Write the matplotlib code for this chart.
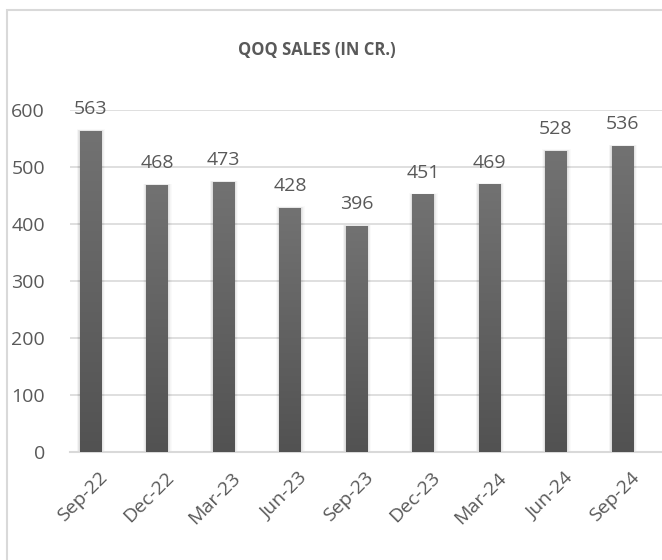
import numpy as np
import matplotlib.pyplot as plt
from matplotlib.colors import LinearSegmentedColormap
from matplotlib.patches import Rectangle

# QoQ sales data (in Cr.)
quarters = ["Sep-22", "Dec-22", "Mar-23", "Jun-23", "Sep-23",
            "Dec-23", "Mar-24", "Jun-24", "Sep-24"]
sales = [563, 468, 473, 428, 396, 451, 469, 528, 536]
y_ticks = [0, 100, 200, 300, 400, 500, 600]

TEXT = "#595959"
GRID = "#d9d9d9"
FONT = "Open Sans"

W, H = 662, 560
fig = plt.figure(figsize=(W / 100, H / 100), dpi=100)
fig.patch.set_facecolor("white")

# outer chart border (right/bottom are cropped in the reference)
fig.add_artist(Rectangle((7 / W, -0.1), 1.2, 1.1 - 10 / H,
                         transform=fig.transFigure, fill=False,
                         edgecolor=GRID, linewidth=1.5))

# plot area in pixels: x 70..662, y 110..452
ax = fig.add_axes([70 / W, (H - 452) / H, (W - 70) / W, 342 / H])

x = np.arange(len(quarters))
bar_w = 0.325

cmap = LinearSegmentedColormap.from_list("bar", ["#525252", "#727272"])
grad = np.linspace(0, 1, 256).reshape(-1, 1)

bars = ax.bar(x, sales, width=bar_w, color="none", zorder=3)
for b, v in zip(bars, sales):
    x0 = b.get_x()
    # soft blurred shadow
    for k in np.linspace(0.01, 0.07, 7):
        ax.add_patch(Rectangle((x0 - k * 0.6, 0), bar_w + k * 1.4, v + k * 40,
                               color="black", alpha=0.018, lw=0, zorder=2))
    ax.imshow(grad, extent=[x0, x0 + bar_w, 0, v], origin="lower",
              aspect="auto", cmap=cmap, zorder=3)
    ax.annotate(str(v), xy=(b.get_x() + bar_w / 2, v), xytext=(0, 17),
                textcoords="offset pixels", ha="center", va="baseline",
                fontsize=14, color=TEXT, family=FONT,
                annotation_clip=False)

ax.set_xlim(-0.308, len(quarters) - 1 + 0.594)
ax.set_ylim(0, 600)

ax.set_yticks(y_ticks)
ax.set_yticklabels([str(t) for t in y_ticks], fontsize=14, color=TEXT,
                   family=FONT)
ax.yaxis.grid(True, color=GRID, linewidth=1.2, zorder=0)
ax.set_axisbelow(True)
ax.tick_params(axis="y", length=0, pad=18)

ax.set_xticks(x + 0.12)
ax.set_xticklabels(quarters, rotation=45, ha="right",
                   rotation_mode="anchor", fontsize=14, color=TEXT,
                   family=FONT)
ax.tick_params(axis="x", length=0, pad=12)

for s in ["top", "right", "left"]:
    ax.spines[s].set_visible(False)
ax.spines["bottom"].set_color(GRID)
ax.spines["bottom"].set_linewidth(1.5)

fig.text(317 / W, 1 - 50 / H, "QOQ SALES (IN CR.)", ha="center",
         va="center", fontsize=12, fontweight="bold", color=TEXT,
         family=FONT)

fig.savefig("out.png", dpi=100)
